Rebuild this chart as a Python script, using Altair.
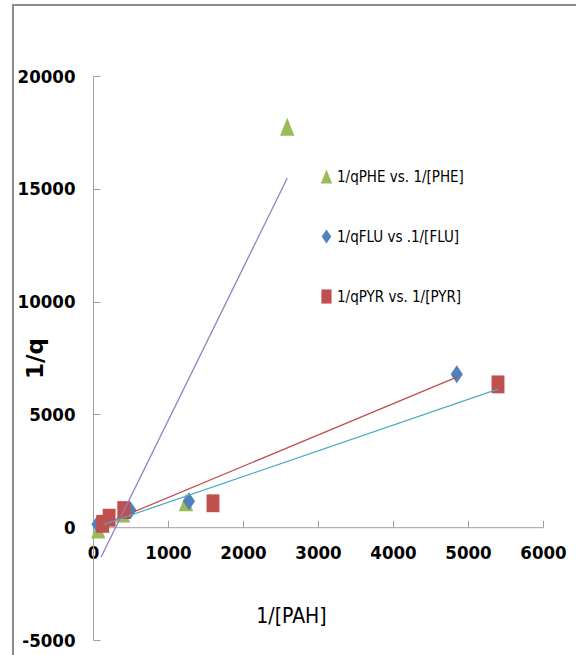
import altair as alt
import pandas as pd

# ---- data ----
series = ["1/qPHE vs. 1/[PHE]", "1/qFLU vs .1/[FLU]", "1/qPYR vs. 1/[PYR]"]
series_colors = ["#9BBB59", "#4F81BD", "#C0504D"]
series_shapes = [
    "M0,-1L0.8,1L-0.8,1Z",
    "M0,-1L0.68,0L0,1L-0.68,0Z",
    "M-0.72,-1L0.72,-1L0.72,1L-0.72,1Z",
]

phe_x = [70, 400, 1240, 2590]
phe_y = [-100, 600, 1100, 17750]
flu_x = [60, 500, 1280, 4850]
flu_y = [130, 750, 1150, 6780]
pyr_x = [130, 215, 410, 1600, 5400]
pyr_y = [150, 420, 760, 1060, 6330]

trend_names = ["PHE trend", "FLU trend", "PYR trend"]
trend_colors = ["#9080C4", "#C0504D", "#4BACC6"]
trend_x = [[107, 2590], [140, 4850], [140, 5400]]
trend_y = [[-1330, 15470], [120, 6650], [120, 6120]]

x_ticks = [0, 1000, 2000, 3000, 4000, 5000, 6000]
y_ticks = [-5000, 0, 5000, 10000, 15000, 20000]

# ---- tables ----
rows = []
for name, xs, ys in zip(series, [phe_x, flu_x, pyr_x], [phe_y, flu_y, pyr_y]):
    for xv, yv in zip(xs, ys):
        rows.append({"series": name, "x": xv, "y": yv})
pts = pd.DataFrame(rows)

lrows = []
for name, xs, ys in zip(trend_names, trend_x, trend_y):
    for xv, yv in zip(xs, ys):
        lrows.append({"trend": name, "x": xv, "y": yv})
lines = pd.DataFrame(lrows)

F = "DejaVu Sans Condensed, sans-serif"
GRAY = "#A0A0A0"
W, H = 450, 564

xscale = alt.Scale(domain=[0, 6000], nice=False, zero=False)
yscale = alt.Scale(domain=[-5000, 20000], nice=False, zero=False)

legend = alt.Legend(
    title=None, orient="none", legendX=226, legendY=93, direction="vertical",
    rowPadding=44, labelFont=F, labelFontSize=15, labelColor="black",
    symbolSize=200, labelOffset=3, padding=0, symbolStrokeWidth=0,
)

frame = alt.Chart(pd.DataFrame({"a": [0]})).mark_rect(
    fillOpacity=0, stroke="#8C8C8C", strokeWidth=2
).encode(
    x=alt.value(-80), x2=alt.value(600), y=alt.value(-71), y2=alt.value(700)
)

points = alt.Chart(pts).mark_point(filled=True, opacity=1, size=320).encode(
    x=alt.X("x:Q", scale=xscale, axis=alt.Axis(
        orient="bottom", offset=-112.8, values=x_ticks, labelExpr="'' + datum.value",
        labelFont=F, labelFontSize=18.5, labelFontWeight="bold", labelColor="black",
        labelPadding=16, ticks=False, tickSize=0, domainColor=GRAY, domainWidth=1,
        grid=False, labelFlush=False, labelOverlap=False,
        title="1/[PAH]", titleFont=F, titleFontSize=21, titleFontWeight="normal",
        titleColor="black", titleX=198, titleY=89, titleBaseline="middle",
    )),
    y=alt.Y("y:Q", scale=yscale, axis=alt.Axis(
        orient="left", values=y_ticks, labelExpr="'' + datum.value",
        labelFont=F, labelFontSize=18.5, labelFontWeight="bold", labelColor="black",
        labelPadding=18, ticks=False, tickSize=0, domainColor=GRAY, domainWidth=1,
        grid=False, labelFlush=False, labelOverlap=False,
        title="1/q", titleFont="DejaVu Sans", titleFontSize=23, titleFontWeight="bold",
        titleColor="black", titleX=-58, titleY=282, titleBaseline="middle",
    )),
    color=alt.Color("series:N", scale=alt.Scale(domain=series, range=series_colors), legend=legend),
    shape=alt.Shape("series:N", scale=alt.Scale(domain=series, range=series_shapes), legend=legend),
)

trend = alt.Chart(lines).mark_line(strokeWidth=1.3).encode(
    x=alt.X("x:Q", scale=xscale, axis=alt.Axis(
        orient="top", offset=-451.2, values=x_ticks, labels=False, domain=False,
        ticks=True, tickSize=7, tickColor=GRAY, grid=False, title=None,
    )),
    y=alt.Y("y:Q", scale=yscale, axis=alt.Axis(
        orient="right", offset=-450, values=y_ticks, labels=False, domain=False,
        ticks=True, tickSize=7, tickColor=GRAY, grid=False, title=None,
    )),
    stroke=alt.Stroke("trend:N", scale=alt.Scale(domain=trend_names, range=trend_colors), legend=None),
)

chart = alt.layer(frame, points, trend).resolve_axis(
    x="independent", y="independent"
).properties(
    width=W, height=H,
    autosize=alt.AutoSizeParams(type="none"),
    padding={"left": 93, "top": 76, "right": 33, "bottom": 15},
    background="white",
).configure_view(strokeWidth=0)

chart.save("out.html", embed_options={"renderer": "svg", "actions": False})
